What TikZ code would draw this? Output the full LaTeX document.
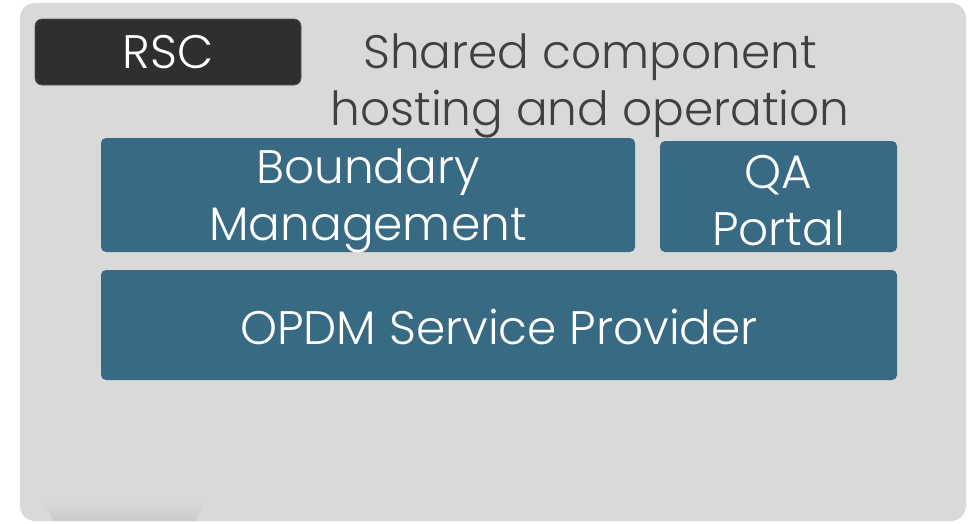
\documentclass[tikz,border=0pt]{standalone}
\usepackage{fontspec}
\setmainfont{Poppins}[UprightFont=* Light]
\usepackage{tikz}
\usetikzlibrary{calc}
\definecolor{bggray}{HTML}{D9D9D9}
\definecolor{tealbox}{HTML}{386B83}
\definecolor{darkbox}{HTML}{2F2F2F}
\definecolor{titlegray}{HTML}{404040}

\begin{document}
\begin{tikzpicture}[x=1pt,y=-1pt,
	big/.style={inner sep=0pt,align=center,font=\fontsize{47}{57}\selectfont},
	box/.style={draw=none,fill=tealbox,rounded corners=5pt,inner sep=0pt},
	boxtext/.style={big,text=white},
	tag/.style={draw=gray!70!black,line width=0.8pt,fill=darkbox,rounded corners=7pt,text=white,big}]
	\useasboundingbox (0,0) rectangle (970,523);
	\fill[bggray,rounded corners=15pt] (20,3) rectangle (966,521);
	\begin{scope}
		\clip[rounded corners=15pt] (20,3) rectangle (966,521);
		\shade[top color=bggray,bottom color=black!21] (42,500) -- (205,500) -- (195,523) -- (55,523) -- cycle;
	\end{scope}
	\draw (168,52) node (rsc) [tag,minimum width=266pt,minimum height=66pt] {RSC};
	\draw (590,86) node (title) [big,text=titlegray] {Shared component\\hosting and operation};
	\draw (368,195) node (bm) [box,minimum width=534pt,minimum height=114pt] {};
	\draw (778.5,196.5) node (qa) [box,minimum width=237pt,minimum height=111pt] {};
	\draw (499,325) node (opdm) [box,minimum width=796pt,minimum height=110pt] {};
	\draw (bm) ++(0,6) node (bmtext) [boxtext] {Boundary\\Management};
	\draw (bm.center -| qa.center) ++(0,6) node (qatext) [boxtext] {QA\\Portal};
	\draw (opdm) ++(0,2) node (opdmtext) [boxtext] {OPDM Service Provider};
\end{tikzpicture}
\end{document}
